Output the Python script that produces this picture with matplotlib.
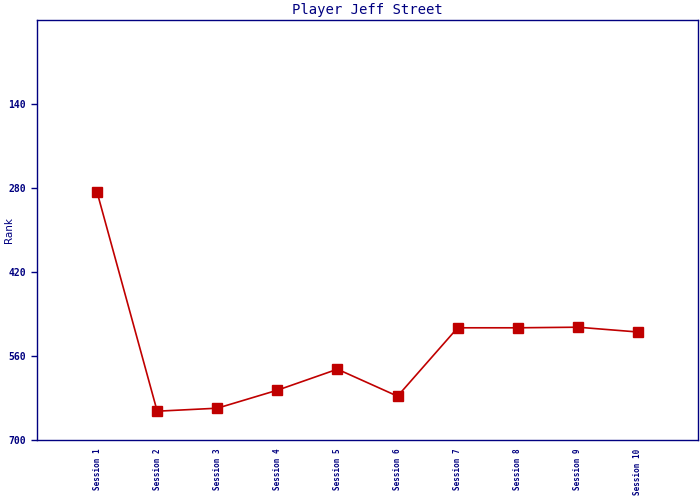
import matplotlib
matplotlib.use("Agg")
import matplotlib.pyplot as plt

sessions = ["Session 1", "Session 2", "Session 3", "Session 4", "Session 5",
            "Session 6", "Session 7", "Session 8", "Session 9", "Session 10"]
ranks = [287, 652, 647, 617, 582, 627, 513, 513, 512, 520]
y_ticks = [140, 280, 420, 560, 700]

navy = "#000080"
red = "#c00000"

fig = plt.figure(figsize=(7, 5), dpi=100)
ax = fig.add_axes([37/700, 60/500, 661/700, 420/500])

x = list(range(1, len(sessions) + 1))
ax.plot(x, ranks, color=red, lw=1.2, marker="s", markersize=6.5,
        markerfacecolor=red, markeredgecolor=red)

ax.set_xlim(0, len(sessions) + 1)
ax.set_ylim(700, 0)
ax.set_yticks(y_ticks)
ax.set_yticklabels([str(v) for v in y_ticks], fontsize=7, color=navy,
                   family="DejaVu Sans Mono", fontweight="bold")
ax.set_xticks(x)
ax.set_xticklabels(sessions, rotation=90, fontsize=5.5, color=navy,
                   family="DejaVu Sans Mono", fontweight="bold", va="top")
ax.tick_params(axis="x", length=0, pad=6)
ax.tick_params(axis="y", length=4, color=navy, width=1, pad=4)
for s in ax.spines.values():
    s.set_color(navy)
    s.set_linewidth(1)

ax.set_ylabel("Rank", fontsize=7.5, color=navy)
ax.yaxis.set_label_coords(-0.035, 0.5)
ax.set_title("Player Jeff Street", fontsize=10, color=navy,
             family="DejaVu Sans Mono", pad=4)

fig.savefig("out.png", dpi=100)
